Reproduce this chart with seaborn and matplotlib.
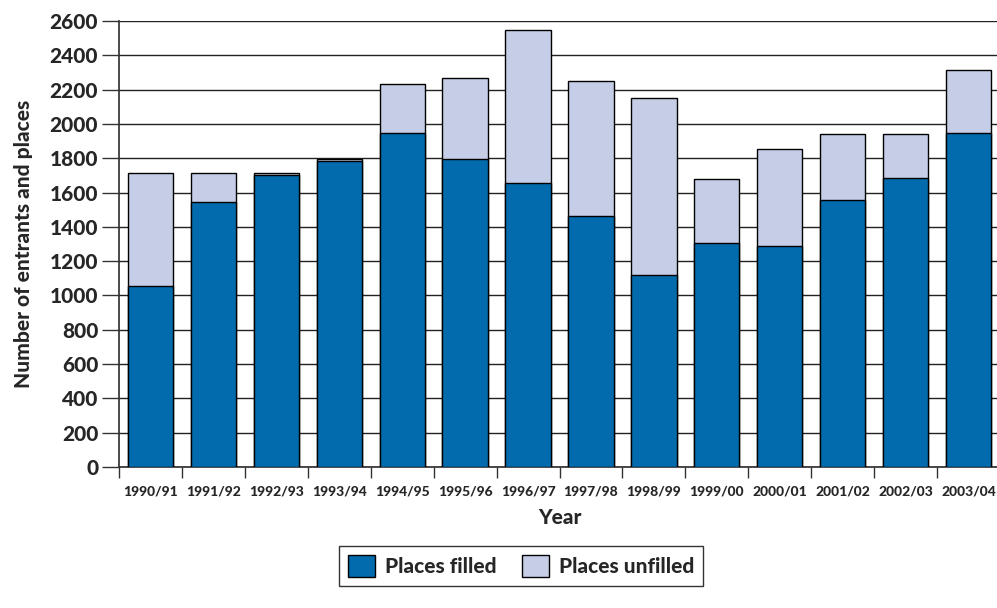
import numpy as np
import pandas as pd
import matplotlib
matplotlib.use('Agg')
import matplotlib.pyplot as plt
import seaborn as sns
from matplotlib.patches import Patch

# =============================================================================
# Data
# =============================================================================
years = ['1990/91', '1991/92', '1992/93', '1993/94', '1994/95', '1995/96', '1996/97',
         '1997/98', '1998/99', '1999/00', '2000/01', '2001/02', '2002/03', '2003/04']
places_filled = [1056, 1542, 1700, 1785, 1950, 1797, 1655,
                 1464, 1122, 1303, 1291, 1556, 1682, 1950]
places_total = [1713, 1713, 1713, 1795, 2231, 2268, 2549,
                2252, 2151, 1680, 1851, 1941, 1941, 2316]

df = pd.DataFrame({'year': years, 'filled': places_filled, 'total': places_total})

dark_blue = '#016BAE'
light_blue = '#C5CEE6'
W = 'black'  # heaviest weight available

sns.set_theme(style='white')
plt.rcParams['font.family'] = ['Lato', 'DejaVu Sans']
plt.rcParams['font.weight'] = W

fig = plt.figure(figsize=(9.97, 6.08), dpi=100)
ax = fig.add_axes([119 / 997, 1 - 467 / 608, 881 / 997, 446 / 608])

# Total bar behind (unfilled part shows above filled)
sns.barplot(data=df, x='year', y='total', color=light_blue, edgecolor='black',
            linewidth=1, width=0.72, saturation=1, ax=ax, zorder=3)
sns.barplot(data=df, x='year', y='filled', color=dark_blue, edgecolor='black',
            linewidth=1, width=0.72, saturation=1, ax=ax, zorder=4)

ax.set_ylim(0, 2600)
ax.set_xlim(-0.5, len(years) - 0.5)
ax.set_yticks(np.arange(0, 2601, 200))
ax.yaxis.grid(True, color='#222222', linewidth=1, zorder=0)
ax.set_axisbelow(True)

for s in ['top', 'right']:
    ax.spines[s].set_visible(False)
ax.spines['left'].set_color('#333333')
ax.spines['bottom'].set_color('#333333')

ax.tick_params(axis='y', which='major', left=True, length=12, width=1, color='#333333',
               labelsize=15, pad=3)
ax.tick_params(axis='x', which='major', length=0, labelsize=10, pad=13)
ax.set_xticks(np.arange(-0.5, len(years), 1), minor=True)
ax.tick_params(axis='x', which='minor', bottom=True, length=8, width=1, color='#333333')
for lab in ax.get_xticklabels() + ax.get_yticklabels():
    lab.set_fontweight(W)

ax.set_xlabel('Year', fontsize=15, fontweight=W, labelpad=8)
ax.set_ylabel('Number of entrants and places', fontsize=15, fontweight=W, labelpad=12)

handles = [Patch(facecolor=dark_blue, edgecolor='black', label='Places filled'),
           Patch(facecolor=light_blue, edgecolor='black', label='Places unfilled')]
leg = fig.legend(handles=handles, loc='center', bbox_to_anchor=(521 / 997, 1 - 566 / 608),
                 ncol=2, frameon=True, fancybox=False, edgecolor='black',
                 prop={'weight': W, 'size': 15}, handlelength=1.3, handleheight=1.3,
                 handletextpad=0.5, columnspacing=1.2, borderpad=0.4)
leg.get_frame().set_linewidth(1)

plt.savefig('out.png', dpi=100)
